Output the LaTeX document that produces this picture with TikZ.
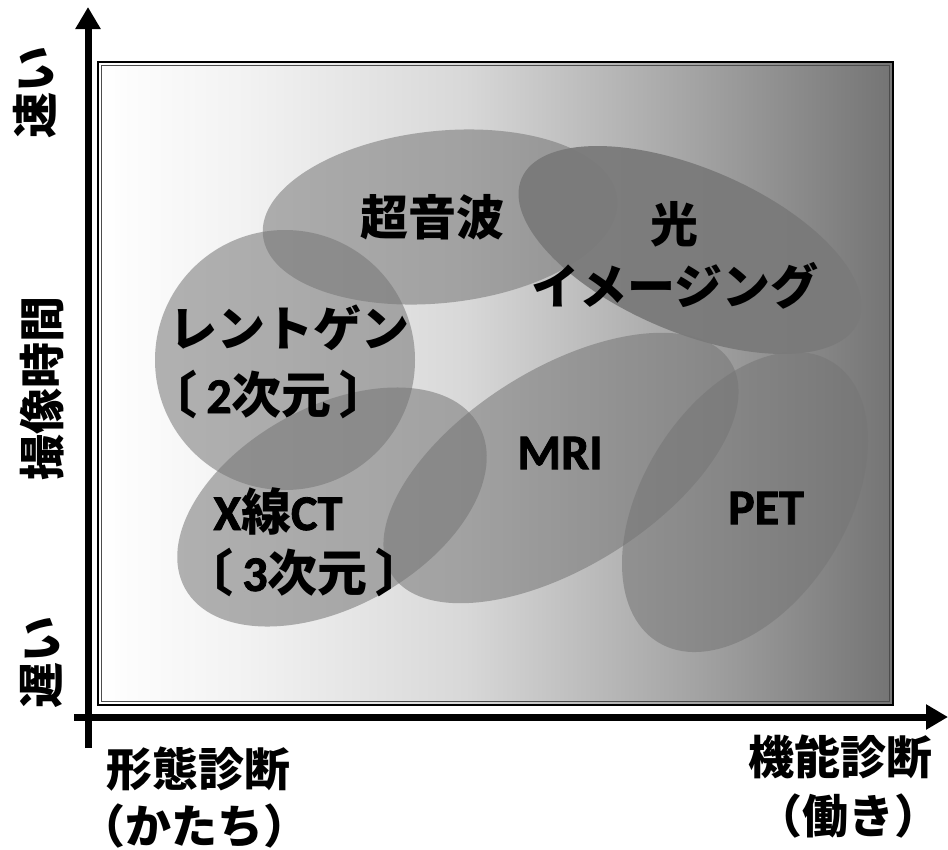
\documentclass[tikz,border=0pt]{standalone}
\usepackage{fontspec}
\setmainfont{Carlito}[BoldFeatures={FakeBold=1.6}]
\newfontfamily\jp{Noto Sans CJK JP}
\usetikzlibrary{arrows.meta}
\definecolor{gA}{gray}{0.949}
\definecolor{gB}{gray}{0.847}
\definecolor{gC}{gray}{0.647}
\definecolor{gD}{gray}{0.455}
\definecolor{blobgray}{gray}{0.46}
\definecolor{lightgray2}{gray}{0.48}
\pgfdeclarehorizontalshading{bgshade}{100bp}{color(0bp)=(white); color(25bp)=(white); color(34.3bp)=(gA); color(48.1bp)=(gB); color(62.1bp)=(gC); color(75bp)=(gD); color(100bp)=(gD)}
\begin{document}
\begin{tikzpicture}[x=1pt,y=-1pt,
  blob/.style={fill=blobgray, fill opacity=0.55},
  darkblob/.style={fill=lightgray2, fill opacity=0.95},
  axisline/.style={line width=7pt, -{Triangle[length=22pt,width=24pt]}},
  lbl/.style={inner sep=0pt, text=black, font={\fontsize{48}{58}\selectfont\jp\bfseries}},
  lat/.style={inner sep=0pt, text=black, font={\fontsize{50}{60}\selectfont\bfseries}},
  axlbl/.style={inner sep=0pt, text=black, font={\fontsize{46}{56}\selectfont\jp\bfseries}}]
\useasboundingbox (0,0) rectangle (948,849);
% background panel
\fill[shading=bgshade] (98,62) rectangle (893,705);
% blobs
\fill[blob, rotate around={6:(440,217)}] (440,217) ellipse [x radius=178, y radius=86];
\fill[blob] (285,360) circle [radius=130];
\fill[blob, rotate around={29:(332,507)}] (332,507) ellipse [x radius=168, y radius=100];
\fill[blob, rotate around={32:(561,468)}] (561,468) ellipse [x radius=200, y radius=99];
\fill[blob, rotate around={58:(745,502)}] (745,502) ellipse [x radius=165, y radius=102];
\fill[darkblob, rotate around={-23:(690,250)}] (690,250) ellipse [x radius=183, y radius=82];
% frame
\draw[black, line width=2pt] (98,62) rectangle (893,705);
\draw[black!70, line width=0.7pt] (101.5,65.5) rectangle (889.5,701.5);
% axes
\coordinate (yfoot) at (88,748);
\coordinate (ytip) at (88,7);
\coordinate (xfoot) at (74,717);
\coordinate (xtip) at (948,717);
\draw[axisline] (yfoot) -- (ytip);
\draw[axisline] (xfoot) -- (xtip);
% labels in panel
\node[lbl] (us) at (432,217) {超音波};
\node[lbl] (hikari) at (674,224) {光};
\node[lbl] (imaging) at (675,286) {イメージング};
\node[lbl] (rg1) at (289,328) {レントゲン};
\node[lat] (rg2) at (269,394) {{\jp 〔\,}2{\jp 次元\,〕}};
\node[lat] (ct1) at (278,511) {X{\jp 線}CT};
\node[lat] (ct2) at (305,572) {{\jp 〔\,}3{\jp 次元\,〕}};
\node[lat] (mri) at (560,453) {MRI};
\node[lat] (pet) at (766,508) {PET};
% axis labels
\node[axlbl, rotate=90] (fast) at (35,92) {速い};
\node[axlbl, rotate=90] (time) at (42,388) {撮像時間};
\node[axlbl, rotate=90] (slow) at (41,662) {遅い};
\node[axlbl] (morph1) at (198,769) {形態診断};
\node[axlbl] (morph2) at (194,826) {（かたち）};
\node[axlbl] (func1) at (840,757) {機能診断};
\node[axlbl] (func2) at (848,816) {（働き）};
\end{tikzpicture}
\end{document}
